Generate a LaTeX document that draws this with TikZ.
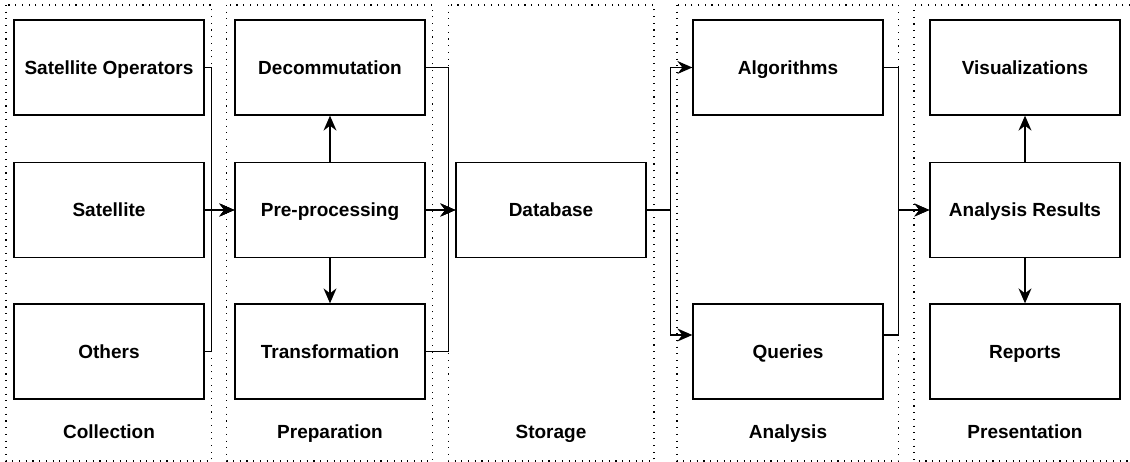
\documentclass[tikz,border=0pt]{standalone}
\usepackage{fontspec}
\setmainfont{Liberation Sans}
\usetikzlibrary{arrows.meta}
\tikzset{
  box/.style={draw, line width=1.3pt, rectangle, minimum width=190pt, minimum height=95pt, inner sep=0pt, text height=17pt, text depth=3.5pt, font=\fontsize{19}{22}\selectfont\bfseries},
  lbl/.style={inner sep=0pt, text height=17pt, text depth=3.5pt, font=\fontsize{19}{22}\selectfont\bfseries},
  lane/.style={line width=1.1pt, dash pattern=on 1.1pt off 5.6pt},
  arr/.style={line width=1.4pt, -{Stealth[length=15pt,width=13pt,inset=5pt]}}
}
\begin{document}
\begin{tikzpicture}[x=1pt,y=-1pt]
\useasboundingbox (0,0) rectangle (1130,462);
% lanes
\draw[lane] (6,5) rectangle (211.7,461);
\draw[lane] (226.7,5) rectangle (432.7,461);
\draw[lane] (448.3,5) rectangle (654,461);
\draw[lane] (677,5) rectangle (898.7,461);
\draw[lane] (1130,5) -- (914,5) -- (914,461) -- (1130,461);
% nodes
\node[box] (satop) at (109,67.5) {Satellite Operators};
\node[box] (sat) at (109,210) {Satellite};
\node[box] (others) at (109,351.5) {Others};
\node[box] (decom) at (330,67.5) {Decommutation};
\node[box] (prep) at (330,210) {Pre-processing};
\node[box] (trans) at (330,351.5) {Transformation};
\node[box] (db) at (551,210) {Database};
\node[box] (alg) at (788,67.5) {Algorithms};
\node[box] (qry) at (788,351.5) {Queries};
\node[box] (vis) at (1025,67.5) {Visualizations};
\node[box] (res) at (1025,210) {Analysis Results};
\node[box] (rep) at (1025,351.5) {Reports};
% lane labels
\node[lbl] (l1) at (109,432) {Collection};
\node[lbl] (l2) at (330,432) {Preparation};
\node[lbl] (l3) at (551,432) {Storage};
\node[lbl] (l4) at (788,432) {Analysis};
\node[lbl] (l5) at (1025,432) {Presentation};
% junction coordinates
\coordinate (j1a) at (211.7,67.5);
\coordinate (j1b) at (211.7,351.5);
\coordinate (j2a) at (448.3,67.5);
\coordinate (j2b) at (448.3,351.5);
\coordinate (j3) at (670.7,210);
\coordinate (j3b) at (670.7,335);
\coordinate (qin) at (qry.west |- j3b);
\coordinate (qout) at (qry.east |- j3b);
\coordinate (j4a) at (898.7,67.5);
\coordinate (j4b) at (898.7,335);
% connectors
\draw[arr] (satop.east) -- (j1a) |- (prep.west);
\draw[arr] (others.east) -- (j1b) |- (prep.west);
\draw[arr] (sat.east) -- (prep.west);
\draw[arr] (prep.north) -- (decom.south);
\draw[arr] (prep.south) -- (trans.north);
\draw[arr] (decom.east) -- (j2a) |- (db.west);
\draw[arr] (trans.east) -- (j2b) |- (db.west);
\draw[arr] (prep.east) -- (db.west);
\draw[arr] (db.east) -- (j3) |- (alg.west);
\draw[arr] (db.east) -- (j3) |- (qin);
\draw[arr] (alg.east) -- (j4a) |- (res.west);
\draw[arr] (qout) -- (j4b) |- (res.west);
\draw[arr] (res.north) -- (vis.south);
\draw[arr] (res.south) -- (rep.north);
\end{tikzpicture}
\end{document}
